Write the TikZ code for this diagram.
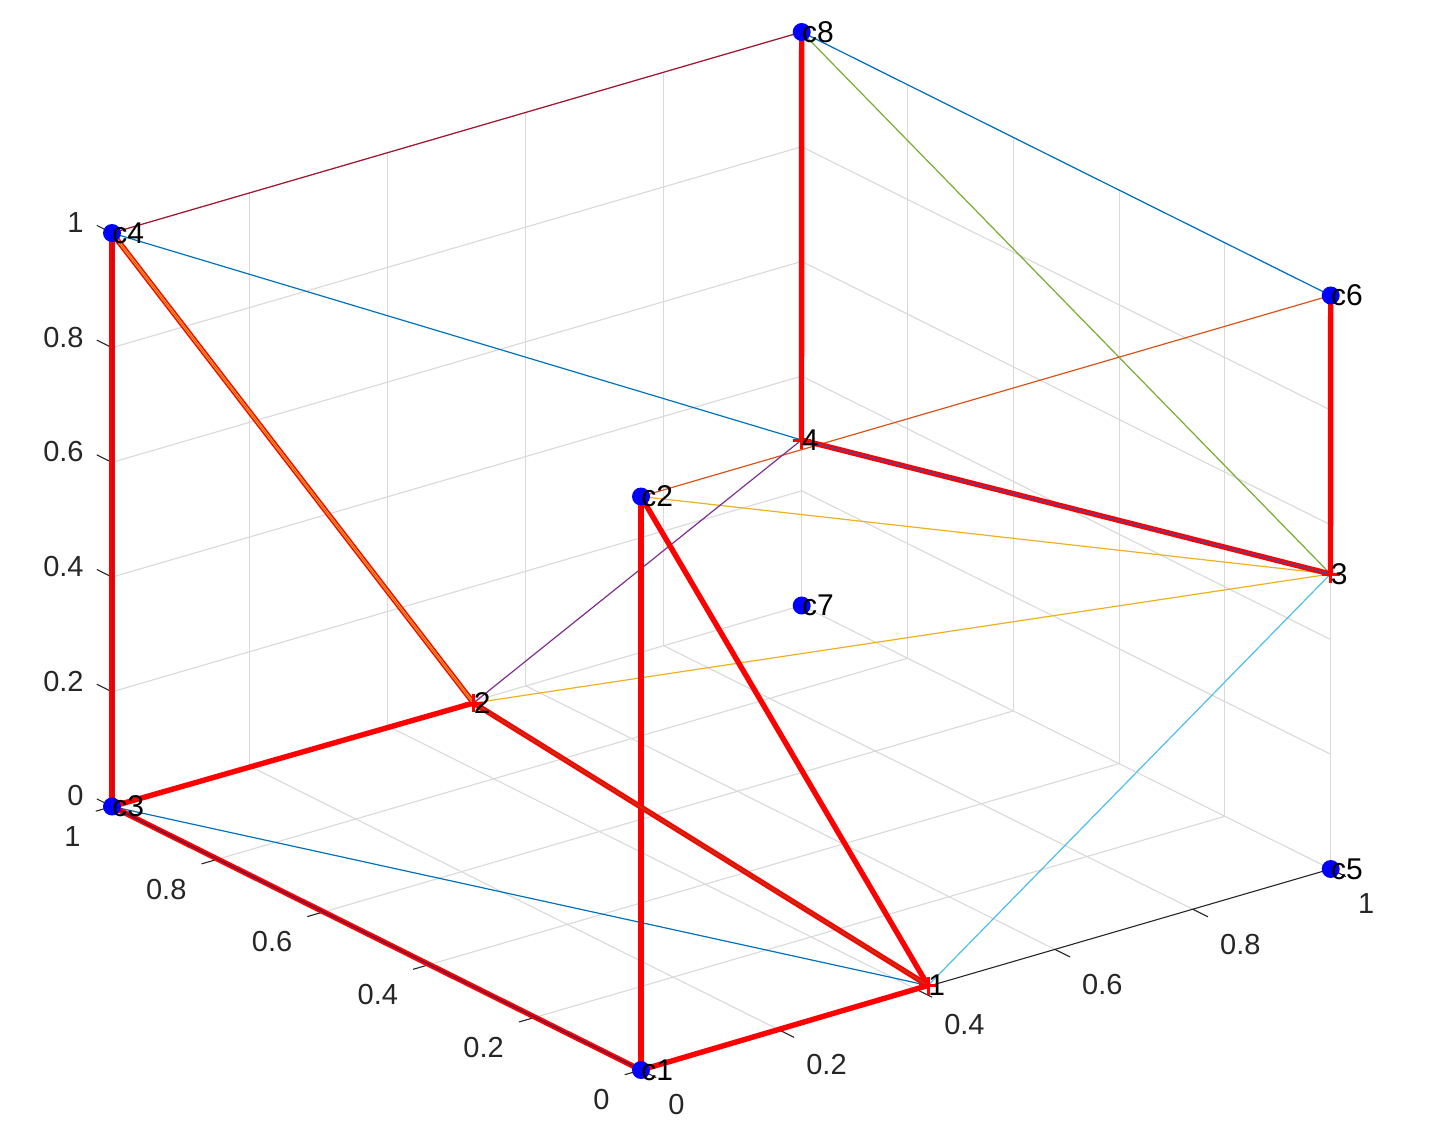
\documentclass[tikz,border=0pt]{standalone}
\usepackage{fontspec}
\setmainfont{Liberation Sans}
\definecolor{gridgray}{HTML}{D9D9D9}
\definecolor{axgray}{HTML}{262626}
\definecolor{mblue}{HTML}{0072BD}
\definecolor{morange}{HTML}{D95319}
\definecolor{myellow}{HTML}{EDB120}
\definecolor{mpurple}{HTML}{7E2F8E}
\definecolor{mgreen}{HTML}{77AC30}
\definecolor{mcyan}{HTML}{4DBEEE}
\definecolor{mdarkred}{HTML}{A2142F}
\definecolor{mred}{HTML}{FF0000}
\definecolor{mmarker}{HTML}{0000FF}
\begin{document}
\begin{tikzpicture}[x=0.5pt,y=-0.5pt,
  gridline/.style={draw=gridgray,line width=0.55pt},
  axisline/.style={draw=axgray,line width=0.55pt},
  ticklabel/.style={text=axgray,inner sep=0pt,font=\fontsize{14.5}{14.5}\selectfont},
  nodelabel/.style={text=black,inner sep=0pt,anchor=west,font=\fontsize{15}{15}\selectfont},
  fineedge/.style={line width=0.6pt},
  boldedge/.style={draw=mred,line width=2.7pt},
  coreline/.style={line width=0.6pt},
  dotmark/.style={circle,fill=mmarker,inner sep=0pt,minimum size=9pt},
  plusmark/.style={draw=mred,line width=1.5pt}]
\useasboundingbox (0,0) rectangle (1430,1134);
\def\ox{641}\def\oy{1070}
\def\Rx{689.7}\def\Ry{-201}
\def\Lx{-529}\def\Ly{-263.5}
\def\Zy{-573.5}
% grid
\foreach \t in {0.2,0.4,0.6,0.8,1}{
  \draw[gridline] ({\ox+\t*\Lx},{\oy+\t*\Ly}) -- ++(\Rx,\Ry);
  \draw[gridline] ({\ox+\t*\Rx},{\oy+\t*\Ry}) -- ++(\Lx,\Ly);
  \draw[gridline] ({\ox+\Lx+\t*\Rx},{\oy+\Ly+\t*\Ry}) -- ++(0,\Zy);
  \draw[gridline] ({\ox+\Lx},{\oy+\Ly+\t*\Zy}) -- ++(\Rx,\Ry);
  \draw[gridline] ({\ox+\Rx},{\oy+\Ry+\t*\Zy}) -- ++(\Lx,\Ly);
}
\foreach \t in {0,0.2,0.4,0.6,0.8}{
  \draw[gridline] ({\ox+\Rx+\t*\Lx},{\oy+\Ry+\t*\Ly}) -- ++(0,\Zy);
}
% corner points
\coordinate (c1) at (641,1070);
\coordinate (c5) at ({\ox+\Rx},{\oy+\Ry});
\coordinate (c3) at ({\ox+\Lx},{\oy+\Ly});
\coordinate (c7) at ({\ox+\Rx+\Lx},{\oy+\Ry+\Ly});
\coordinate (c2) at ({\ox},{\oy+\Zy});
\coordinate (c6) at ({\ox+\Rx},{\oy+\Ry+\Zy});
\coordinate (c4) at ({\ox+\Lx},{\oy+\Ly+\Zy});
\coordinate (c8) at ({\ox+\Rx+\Lx},{\oy+\Ry+\Ly+\Zy});
% graph nodes
\coordinate (n1) at (928,985.5);
\coordinate (n2) at (473.5,703);
\coordinate (n3) at (1330.5,574);
\coordinate (n4) at (801.5,440);
% axes
\draw[axisline] (c3) -- (c1) -- (c5);
\draw[axisline] (c3) -- (c4);
% ticks and tick labels
\foreach \t/\lab in {0/0,0.2/0.2,0.4/0.4,0.6/0.6,0.8/0.8,1/1}{
  \draw[axisline] ({\ox+\t*\Rx},{\oy+\t*\Ry}) -- ++(15.2,7.6);
  \node[ticklabel,anchor=west] at ({\ox+\t*\Rx+27},{\oy+\t*\Ry+35}) {\lab};
  \draw[axisline] ({\ox+\t*\Lx},{\oy+\t*\Ly}) -- ++(-16.3,4.7);
  \node[ticklabel,anchor=east] at ({\ox+\t*\Lx-31},{\oy+\t*\Ly+30}) {\lab};
  \draw[axisline] ({\ox+\Lx},{\oy+\Ly+\t*\Zy}) -- ++(-15.2,-7.6);
  \node[ticklabel,anchor=east] at (84,{\oy+\Ly+\t*\Zy-10.5}) {\lab};
}
% thin edges
\draw[fineedge,draw=mdarkred] (c8) -- (c4);
\draw[fineedge,draw=mblue] (c8) -- (c6);
\draw[fineedge,draw=mgreen] (c8) -- (n3);
\draw[fineedge,draw=mblue] (c4) -- (n4);
\draw[fineedge,draw=morange] (c6) -- (c2);
\draw[fineedge,draw=myellow] (c2) -- (n3);
\draw[fineedge,draw=myellow] (n2) -- (n3);
\draw[fineedge,draw=mpurple] (n2) -- (n4);
\draw[fineedge,draw=mcyan] (n3) -- (n1);
\draw[fineedge,draw=mblue] (c3) -- (n1);
% bold edges
\draw[boldedge] (c8) -- (n4);
\draw[boldedge] (n4) -- (n3);
\draw[boldedge] (n3) -- (c6);
\draw[boldedge] (c4) -- (c3);
\draw[boldedge] (c4) -- (n2);
\draw[boldedge] (c3) -- (n2);
\draw[boldedge] (n2) -- (n1);
\draw[boldedge] (c2) -- (c1);
\draw[boldedge] (c2) -- (n1);
\draw[boldedge] (c3) -- (c1);
\draw[boldedge] (c1) -- (n1);
% cores inside bold edges
\draw[coreline,draw=myellow,line width=1.2pt] (c4) -- (n2);
\draw[coreline,draw=morange,line width=0.4pt] (c4) -- (n2);
\draw[coreline,draw=mpurple!70!mblue] (n4) -- (n3);
\draw[coreline,draw=mpurple!60!black] (c3) -- (c1);
\draw[coreline,draw=morange!80!black] (n2) -- (n1);
\draw[coreline,draw=mdarkred,line width=0.4pt] (c4) -- (c3);
% plus markers on graph nodes
\foreach \n in {n1,n2,n3,n4}{
  \draw[plusmark] ([xshift=-4.5pt]\n) -- ([xshift=4.5pt]\n);
  \draw[plusmark] ([yshift=-4.5pt]\n) -- ([yshift=4.5pt]\n);
}
% dot markers
\foreach \c in {c1,c2,c3,c4,c5,c6,c7,c8}{
  \node[dotmark] (m\c) at (\c) {};
}
% labels
\node[nodelabel] (l1) at (n1) {1};
\node[nodelabel] (l2) at (n2) {2};
\node[nodelabel] (l3) at (n3) {3};
\node[nodelabel] (l4) at (n4) {4};
\foreach \c in {c1,c2,c3,c4,c5,c6,c7,c8}{
  \node[nodelabel] (l\c) at (\c) {\c};
}
\end{tikzpicture}
\end{document}
